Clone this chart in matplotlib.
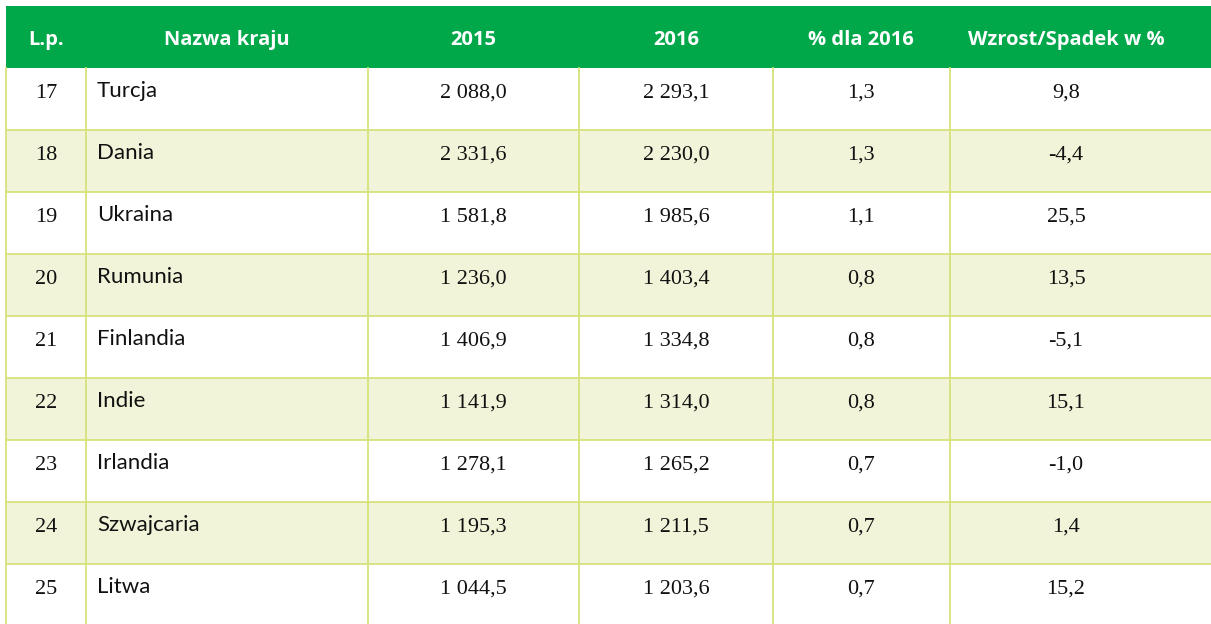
import matplotlib.pyplot as plt
from matplotlib.patches import Rectangle

# dane z tabeli
lp = ['17', '18', '19', '20', '21', '22', '23', '24', '25']
kraje = ['Turcja', 'Dania', 'Ukraina', 'Rumunia', 'Finlandia', 'Indie',
         'Irlandia', 'Szwajcaria', 'Litwa']
rok_2015 = ['2 088,0', '2 331,6', '1 581,8', '1 236,0', '1 406,9', '1 141,9',
            '1 278,1', '1 195,3', '1 044,5']
rok_2016 = ['2 293,1', '2 230,0', '1 985,6', '1 403,4', '1 334,8', '1 314,0',
            '1 265,2', '1 211,5', '1 203,6']
udzial_2016 = ['1,3', '1,3', '1,1', '0,8', '0,8', '0,8', '0,7', '0,7', '0,7']
zmiana = ['9,8', '-4,4', '25,5', '13,5', '-5,1', '15,1', '-1,0', '1,4', '15,2']
naglowki = ['L.p.', 'Nazwa kraju', '2015', '2016', '% dla 2016', 'Wzrost/Spadek w %']

W, H = 1211, 624
GREEN = '#00a84a'
ALT = '#f1f4d8'
LINE = '#d8e27c'

# uklad w pikselach
left, right = 6, 1211
head_top, head_bot = 6, 68
row_h = 62
col_edges = [6, 86, 368, 579, 773, 950, 1211]
col_centers = [46, 227, 473, 676, 861, 1066]

fig = plt.figure(figsize=(W / 100, H / 100), dpi=100)
ax = fig.add_axes([0, 0, 1, 1])
ax.set_xlim(0, W)
ax.set_ylim(H, 0)
ax.axis('off')

# naglowek
ax.add_patch(Rectangle((left, head_top), right - left, head_bot - head_top,
                       facecolor=GREEN, edgecolor='none'))
for x, t in zip(col_centers, naglowki):
    ax.text(x, 45, t, ha='center', va='baseline', color='white',
            fontsize=14.5, fontweight='bold', family='Open Sans')

# wiersze
kolumny = [lp, kraje, rok_2015, rok_2016, udzial_2016, zmiana]
for i in range(len(lp)):
    top = head_bot + i * row_h
    if i % 2 == 1:
        ax.add_patch(Rectangle((left, top), right - left, row_h,
                               facecolor=ALT, edgecolor='none'))
    if i > 0:
        ax.plot([left, right], [top, top], color=LINE, lw=1.3)
    base = top + 30
    for j, col in enumerate(kolumny):
        if j == 1:
            ax.text(97, base - 1, col[i], ha='left', va='baseline',
                    fontsize=16, family='Lato', color='#111111')
        else:
            ax.text(col_centers[j], base, col[i], ha='center', va='baseline',
                    fontsize=16, family='Liberation Serif', color='#111111')

# linie pionowe
for x in col_edges[:-1]:
    ax.plot([x, x], [head_bot, H], color=LINE, lw=1.3)

fig.savefig('out.png', dpi=100)
